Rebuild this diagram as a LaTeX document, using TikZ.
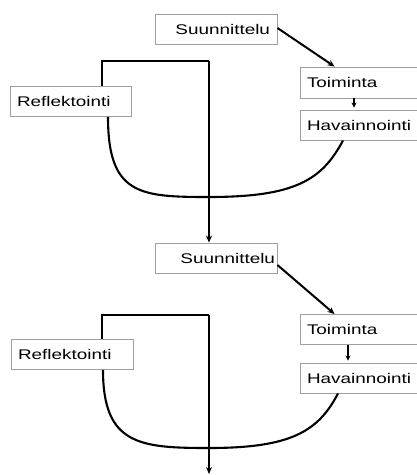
\documentclass[tikz,border=0pt]{standalone}
\usepackage{fontspec}
\setmainfont[FakeStretch=1.35]{Liberation Sans}
\usetikzlibrary{arrows.meta}
\begin{document}
\begin{tikzpicture}[x=1pt,y=-1pt,
  box/.style={draw=gray!75, fill=white, line width=0.9pt, rectangle,
    minimum height=30pt, inner xsep=7pt, inner ysep=0pt,
    font=\fontsize{14}{16}\selectfont, text=black},
  lbox/.style={box, text width=106pt, align=left},
  rbox/.style={box, text width=108pt, align=right},
  flow/.style={line width=2pt, -{Stealth[length=7pt,width=6pt]}},
  loopline/.style={line width=2.4pt},
  cyc/.style={line width=2.1pt},
  small/.style={line width=1.5pt, -{Stealth[length=5pt,width=5pt]}}]
\useasboundingbox (0,0) rectangle (417,475);
% top section
\node[rbox] (S1) at (216,29) {Suunnittelu};
\node[lbox, minimum height=31pt] (T1) at (360,82.5) {Toiminta};
\node[lbox] (H1) at (360,125) {Havainnointi};
\node[lbox, text width=107pt] (R1) at (70.5,101.5) {Reflektointi};
% bottom section
\node[rbox, inner xsep=2pt, text width=118pt] (S2) at (216,258) {Suunnittelu};
\node[lbox] (T2) at (360,329.5) {Toiminta};
\node[lbox] (H2) at (360,378) {Havainnointi};
\node[lbox, text width=108pt] (R2) at (72,354.5) {Reflektointi};
\coordinate (L1) at (209,61);
\coordinate (L2) at (209,315);
\coordinate (E2) at (209,474);
% connectors top
\draw[flow] ([yshift=1pt]S1.east) -- ([xshift=35pt]T1.north west);
\draw[small] ([xshift=-6pt]T1.south) -- ([xshift=-6pt,yshift=2pt]H1.north);
\draw[loopline] ([xshift=31.5pt]R1.north) |- (L1);
\draw[flow, line width=2.4pt] (L1) -- (L1 |- S2.north);
\draw[cyc] ([xshift=37.5pt]R1.south) .. controls (108,195) and (140,197) .. (209,197)
  .. controls (295,197) and (322,180) .. ([xshift=-17pt]H1.south);
% connectors bottom
\draw[flow] ([yshift=-7pt]S2.east) -- ([xshift=35pt]T2.north west);
\draw[small] ([xshift=-12pt]T2.south) -- ([xshift=-12pt,yshift=2pt]H2.north);
\draw[loopline] ([xshift=30pt]R2.north) |- (L2);
\draw[flow, line width=2.4pt] (L2) -- (E2);
\draw[cyc] ([xshift=31pt]R2.south) .. controls (103,445) and (140,448) .. (209,448)
  .. controls (290,448) and (318,432) .. ([xshift=-22pt]H2.south);
\end{tikzpicture}
\end{document}
